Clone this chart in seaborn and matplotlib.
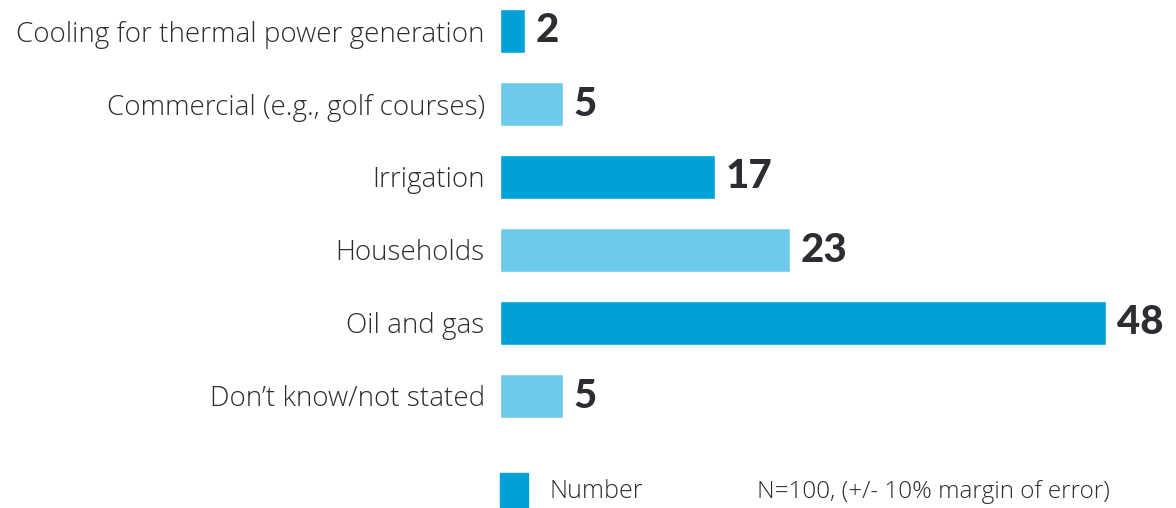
import pandas as pd
import matplotlib.pyplot as plt
import matplotlib.patches as mpatches
import seaborn as sns

categories = ["Cooling for thermal power generation", "Commercial (e.g., golf courses)",
              "Irrigation", "Households", "Oil and gas", "Don\u2019t know/not stated"]
values = [2, 5, 17, 23, 48, 5]
bar_colors = ["#00A0D8", "#6DCAEA", "#00A0D8", "#6DCAEA", "#00A0D8", "#6DCAEA"]
legend_label = "Number"
note = "N=100, (+/- 10% margin of error)"

df = pd.DataFrame({"category": categories, "value": values})

sns.set_style("white")
plt.rcParams["font.family"] = ["Open Sans", "DejaVu Sans"]

fig = plt.figure(figsize=(11.76, 5.08), dpi=100)
# axes covers x 500..1170 px, y full height
ax = fig.add_axes([500 / 1176, 0, 670 / 1176, 1])

sns.barplot(data=df, y="category", x="value", hue="category", palette=bar_colors,
            legend=False, width=0.6, saturation=1, ax=ax)

ax.set_xlim(0, 670 / 12.625)
ax.set_ylim((508 - 31) / 73, -31 / 73)
sns.despine(ax=ax, left=True, bottom=True)
ax.set_xticks([])
ax.set_xlabel("")
ax.set_ylabel("")
ax.tick_params(axis="y", length=0, pad=11, labelsize=20, labelcolor="#2B2D33")
for lbl in ax.get_yticklabels():
    lbl.set_fontweight("light")

for i, v in enumerate(values):
    ax.text(v + 0.85, i, str(v), va="center", ha="left", fontsize=29,
            fontweight="black", color="#2B2D33", family=["Lato", "DejaVu Sans"])

# legend
fig.patches.append(mpatches.Rectangle((500 / 1176, 1 - 507 / 508), 28 / 1176, 34 / 508,
                                      transform=fig.transFigure, color="#00A0D8"))
fig.text(550 / 1176, 1 - 492 / 508, legend_label, va="center", ha="left",
         fontsize=18, fontweight="light", color="#2B2D33")
fig.text(757 / 1176, 1 - 492 / 508, note, va="center", ha="left",
         fontsize=17.5, fontweight="light", color="#2B2D33")

fig.savefig("out.png", dpi=100)
